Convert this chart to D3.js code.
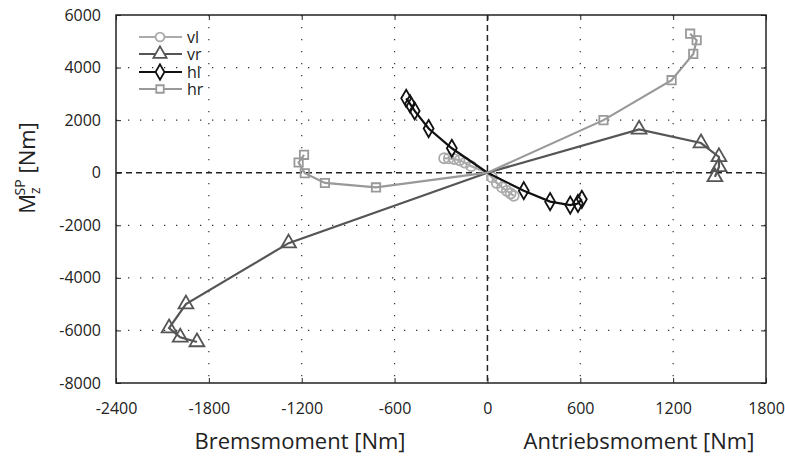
<!DOCTYPE html>
<html>
<head>
<meta charset="utf-8">
<script src="https://cdn.jsdelivr.net/npm/d3@7"></script>
<style>
  body { margin: 0; background: #fff; }
  text { font-family: "Open Sans", "Noto Sans", sans-serif; fill: #222; }
</style>
</head>
<body>
<div id="chart"></div>
<script>
var svgWidth = 785;
var svgHeight = 461;

// plot area (pixel frame of the axes box)
var plot = { left: 116, right: 766, top: 15, bottom: 383 };

// tick values
var xTicks = [-2400, -1800, -1200, -600, 0, 600, 1200, 1800];
var yTicks = [-8000, -6000, -4000, -2000, 0, 2000, 4000, 6000];

// series: [Nm torque, Mz]
var vlX = [-280, -250, -215, -180, -145, -105, 0, 30, 60, 95, 125, 150, 170];
var vlY = [550, 545, 520, 470, 380, 250, 0, -180, -390, -560, -690, -790, -880];

var vrX = [-1877, -1985, -2057, -1948, -1285, 0, 980, 1380, 1496, 1496, 1470];
var vrY = [-6440, -6260, -5910, -5000, -2680, 0, 1650, 1130, 600, 220, -160];

var hlX = [-525, -500, -470, -380, -230, 0, 235, 405, 535, 585, 610];
var hlY = [2830, 2620, 2350, 1680, 930, 0, -685, -1100, -1230, -1170, -1010];

var hrX = [-1185, -1220, -1180, -1050, -720, 0, 750, 1190, 1330, 1352, 1310];
var hrY = [680, 390, -20, -390, -560, 0, 2000, 3520, 4520, 5040, 5290];

var seriesNames = ["vl", "vr", "hl", "hr"];
var seriesX = [vlX, vrX, hlX, hrX];
var seriesY = [vlY, vrY, hlY, hrY];
var seriesColor = ["#aaaaaa", "#555555", "#111111", "#999999"];
var seriesSymbol = [d3.symbolCircle, d3.symbolTriangle, d3.symbolDiamond, d3.symbolSquare];
var seriesSize = [78, 95, 85, 70];

var svg = d3.select("#chart")
    .append("svg")
    .attr("width", svgWidth)
    .attr("height", svgHeight);

var x = d3.scaleLinear().domain([-2400, 1800]).range([plot.left, plot.right]);
var y = d3.scaleLinear().domain([-8000, 6000]).range([plot.bottom, plot.top]);

// plain labels with a hyphen minus, no thousands separator
var plain = d => String(d);

// dotted grid
var grid = svg.append("g");
grid.selectAll(".gx")
    .data(xTicks.filter(d => d !== 0 && d !== -2400 && d !== 1800))
    .enter().append("line")
    .attr("x1", d => x(d)).attr("x2", d => x(d))
    .attr("y1", plot.top).attr("y2", plot.bottom)
    .attr("stroke", "#333").attr("stroke-width", 1.2)
    .attr("stroke-dasharray", "1.3,10.7");
grid.selectAll(".gy")
    .data(yTicks.filter(d => d !== 0 && d !== -8000 && d !== 6000))
    .enter().append("line")
    .attr("y1", d => y(d)).attr("y2", d => y(d))
    .attr("x1", plot.left).attr("x2", plot.right)
    .attr("stroke", "#333").attr("stroke-width", 1.2)
    .attr("stroke-dasharray", "1.3,10.7");

// dashed zero lines
svg.append("line")
    .attr("x1", x(0)).attr("x2", x(0)).attr("y1", plot.top).attr("y2", plot.bottom)
    .attr("stroke", "#222").attr("stroke-width", 1.5).attr("stroke-dasharray", "6,4");
svg.append("line")
    .attr("y1", y(0)).attr("y2", y(0)).attr("x1", plot.left).attr("x2", plot.right)
    .attr("stroke", "#222").attr("stroke-width", 1.5).attr("stroke-dasharray", "6,4");

// axes (ticks inward) on all sides
svg.append("g")
    .attr("transform", `translate(0, ${plot.bottom})`)
    .call(d3.axisBottom(x).tickValues(xTicks).tickFormat(plain).tickSizeInner(-5).tickSizeOuter(0).tickPadding(20))
    .call(g => g.select(".domain").remove())
    .selectAll("text").style("font-size", "16px");
svg.append("g")
    .attr("transform", `translate(0, ${plot.top})`)
    .call(d3.axisTop(x).tickValues(xTicks).tickSize(-5).tickFormat(""))
    .call(g => g.select(".domain").remove());
svg.append("g")
    .attr("transform", `translate(${plot.left}, 0)`)
    .call(d3.axisLeft(y).tickValues(yTicks).tickFormat(plain).tickSizeInner(-5).tickSizeOuter(0).tickPadding(15))
    .call(g => g.select(".domain").remove())
    .selectAll("text").style("font-size", "16px");
svg.append("g")
    .attr("transform", `translate(${plot.right}, 0)`)
    .call(d3.axisRight(y).tickValues(yTicks).tickSize(-5).tickFormat(""))
    .call(g => g.select(".domain").remove());

svg.selectAll(".tick line").attr("stroke", "#222");
svg.selectAll(".tick text").attr("fill", "#222");

// frame
svg.append("rect")
    .attr("x", plot.left).attr("y", plot.top)
    .attr("width", plot.right - plot.left).attr("height", plot.bottom - plot.top)
    .attr("fill", "none").attr("stroke", "#222").attr("stroke-width", 1.5);

// series lines and markers
var line = d3.line().x(d => x(d[0])).y(d => y(d[1]));
seriesNames.forEach(function(name, i) {
    var pts = seriesX[i].map((v, j) => [v, seriesY[i][j]]);
    svg.append("path")
        .datum(pts)
        .attr("d", line)
        .attr("fill", "none")
        .attr("stroke", seriesColor[i])
        .attr("stroke-width", 2.2);
    svg.selectAll(".m" + name)
        .data(pts.filter(p => !(p[0] === 0 && p[1] === 0)))
        .enter().append("path")
        .attr("transform", d => `translate(${x(d[0])}, ${y(d[1])})`)
        .attr("d", d3.symbol().type(seriesSymbol[i]).size(seriesSize[i]))
        .attr("fill", "none")
        .attr("stroke", seriesColor[i])
        .attr("stroke-width", 1.8);
});

// legend
var legendY = [37, 54, 72, 89];
var legend = svg.append("g");
seriesNames.forEach(function(name, i) {
    legend.append("line")
        .attr("x1", 139).attr("x2", 182)
        .attr("y1", legendY[i]).attr("y2", legendY[i])
        .attr("stroke", seriesColor[i]).attr("stroke-width", 2);
    legend.append("path")
        .attr("transform", `translate(160, ${legendY[i]})`)
        .attr("d", d3.symbol().type(seriesSymbol[i]).size(seriesSize[i] * 0.8))
        .attr("fill", "#fff")
        .attr("stroke", seriesColor[i])
        .attr("stroke-width", 1.8);
    legend.append("text")
        .attr("x", 187).attr("y", legendY[i])
        .attr("dy", "0.35em")
        .style("font-size", "16px")
        .text(name);
});

// axis titles
svg.append("text")
    .attr("x", 300).attr("y", 449)
    .attr("text-anchor", "middle")
    .style("font-size", "22px")
    .text("Bremsmoment [Nm]");
svg.append("text")
    .attr("x", 639).attr("y", 449)
    .attr("text-anchor", "middle")
    .style("font-size", "22px")
    .text("Antriebsmoment [Nm]");

var yTitle = svg.append("text")
    .attr("transform", "translate(35, 168) rotate(-90)")
    .attr("text-anchor", "middle")
    .style("font-size", "22px");
yTitle.append("tspan").text("M");
yTitle.append("tspan").attr("dy", 5).style("font-size", "14px").text("z");
yTitle.append("tspan").attr("dy", -15).attr("dx", -8).style("font-size", "14px").text("SP");
yTitle.append("tspan").attr("dy", 10).text(" [Nm]");
</script>
</body>
</html>
